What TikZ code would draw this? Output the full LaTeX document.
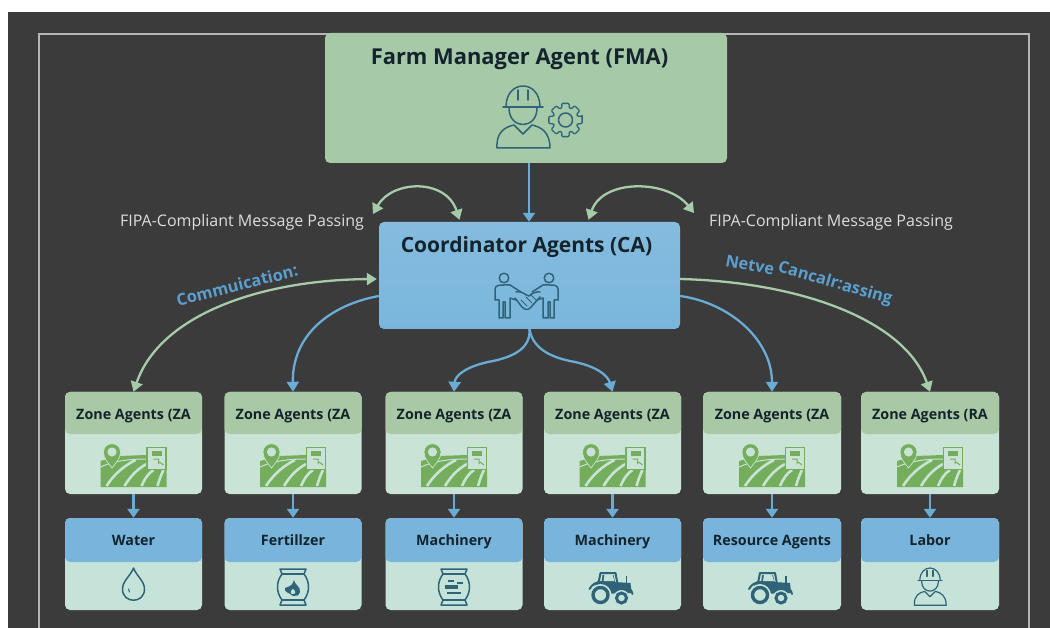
\documentclass[tikz,border=0pt]{standalone}
\usepackage{fontspec}
\setmainfont{Open Sans}
\usetikzlibrary{arrows.meta,calc}
\definecolor{bgdark}{HTML}{3B3B3C}
\definecolor{framegrey}{HTML}{B4B6B4}
\definecolor{fmagreen}{HTML}{A6C9A8}
\definecolor{cablue}{HTML}{7AB6DC}
\definecolor{zonehead}{HTML}{A9C9A6}
\definecolor{zonebody}{HTML}{C9E3D6}
\definecolor{reshead}{HTML}{79B4DC}
\definecolor{resbody}{HTML}{C6E3DA}
\definecolor{inkdark}{HTML}{14242C}
\definecolor{icondark}{HTML}{2F6478}
\definecolor{arrowgreen}{HTML}{A6CBA9}
\definecolor{arrowblue}{HTML}{69ACD4}
\definecolor{labelblue}{HTML}{5B9FCF}
\definecolor{labelwhite}{HTML}{DDDDDB}
\definecolor{fieldgreen}{HTML}{74AE5C}
\tikzset{
  x=1pt,y=-1pt,
  bigbox/.style={rounded corners=5pt,inner sep=0pt,draw=none},
  zonebox/.style={rounded corners=5pt,inner sep=0pt,minimum height=102pt,fill=zonebody,
    path picture={\fill[zonehead] (path picture bounding box.north west) rectangle ([yshift=-42pt]path picture bounding box.north east);}},
  resbox/.style={rounded corners=5pt,inner sep=0pt,minimum height=92pt,fill=resbody,
    path picture={\fill[reshead] (path picture bounding box.north west) rectangle ([yshift=-44pt]path picture bounding box.north east);}},
  smalltitle/.style={font=\fontsize{14.3}{16}\selectfont\bfseries,text=inkdark,inner sep=0pt,anchor=base},
  msglabel/.style={font=\fontsize{16}{18}\selectfont,text=labelwhite,inner sep=0pt,anchor=base},
  curvelabel/.style={font=\fontsize{16.4}{18}\selectfont\bfseries,text=labelblue,inner sep=0pt},
  greenarrow/.style={draw=arrowgreen,line width=2.3pt},
  bluearrow/.style={draw=arrowblue,line width=2.3pt},
  tip/.style={-{Triangle[length=10pt,width=12pt]}},
  shorttip/.style={-{Triangle[length=9pt,width=12pt]}},
  tiptwo/.style={{Triangle[length=10pt,width=12pt]}-{Triangle[length=10pt,width=12pt]}},
  iconline/.style={draw=icondark,line width=1.5pt,line join=round,line cap=round},
  fieldicon/.pic={
    \fill[fieldgreen] (-33,-4) -- (-15,-9) -- (13,-10) -- (13,5) -- (33,5) -- (33,22) -- (-33,22) -- cycle;
    \draw[zonebody,line width=2.6pt] (-27,21) .. controls (-20,10) and (-10,1) .. (2,-5);
    \draw[zonebody,line width=2.6pt] (-9,21) .. controls (-3,11) and (4,4) .. (13,-1);
    \draw[zonebody,line width=2.6pt] (8,21) .. controls (11,14) and (15,8) .. (20,5);
    \draw[zonebody,line width=2.6pt] (24,21) .. controls (26,14) and (28,9) .. (30,5);
    \draw[zonebody,line width=1pt] (-33,2) .. controls (-22,-3) and (-8,-6) .. (13,-6);
    \filldraw[fill=fieldgreen,draw=zonebody,line width=0.7pt] (-30,-13) .. controls (-30,-6) and (-25,-2) .. (-21.5,3) .. controls (-18,-2) and (-13,-6) .. (-13,-13) .. controls (-13,-24) and (-30,-24) .. (-30,-13) -- cycle;
    \fill[zonebody] (-21.5,-13) circle[radius=4.6pt];
    \fill[zonebody] (13,-18) rectangle (33,5);
    \draw[fieldgreen,line width=1.2pt] (13.5,-17.5) rectangle (32.5,4.5);
    \fill[fieldgreen] (18,-14) rectangle (28,-9);
    \draw[fieldgreen,line width=1pt] (20,-6) -- (25,-6) -- (25,-1) (26,-3) -- (30,0);
  },
  dropicon/.pic={
    \draw[iconline] (0,-16) .. controls (-3,-8) and (-11,-3) .. (-11,5) .. controls (-11,20) and (11,20) .. (11,5) .. controls (11,-3) and (3,-8) .. (0,-16) -- cycle;
    \draw[iconline,line width=1pt] (-5,5) -- (-4,8);
  },
  bagoutline/.pic={
    \draw[iconline] (-13,-17) -- (13,-17) -- (11,-12) .. controls (17,-4) and (17,6) .. (11,14) -- (13,19) -- (-13,19) -- (-11,14) .. controls (-17,6) and (-17,-4) .. (-11,-12) -- cycle;
    \draw[iconline,line width=1.1pt] (-11,-12) -- (11,-12) (-11,14) -- (11,14);
  },
  fertilizericon/.pic={
    \pic {bagoutline};
    \fill[icondark] (1,-6) .. controls (1,-2) and (8,1) .. (7,6) .. controls (6,10) and (3,10) .. (0,10) .. controls (-4,6) and (-9,7) .. (-8,2) .. controls (-5,-1) and (-2,3) .. (1,-6) -- cycle;
    \fill[resbody] (0,3) .. controls (3,5) and (3,8) .. (0,8) .. controls (-3,8) and (-3,5) .. (0,3) -- cycle;
  },
  sackicon/.pic={
    \pic {bagoutline};
    \fill[icondark] (-6,-6) rectangle (0,-4);
    \fill[icondark] (3,-4) rectangle (9,-2);
    \fill[icondark] (-9,-1) rectangle (4,3);
    \fill[icondark] (-7,6) rectangle (7,8);
  },
  tractoricon/.pic={
    \fill[icondark] (-16,-2) -- (-12,-6) -- (20,-4) -- (21,6) -- (-14,7) -- cycle;
    \draw[icondark,line width=2pt,line join=round] (-12,-4) -- (-10,-14) -- (5,-14) -- (7,-3);
    \fill[icondark] (-8,-12) -- (3,-12) -- (5,-3) -- (-9,-3) -- cycle;
    \fill[resbody] (-6,-12) -- (2,-12) -- (4,-6) -- (-7,-6) -- cycle;
    \draw[icondark,line width=1.6pt] (16,-4) -- (16,-11);
    \fill[resbody] (-10,8) circle[radius=11pt];
    \draw[icondark,line width=3.4pt] (-10,8) circle[radius=7.5pt];
    \fill[resbody] (11,11) circle[radius=8pt];
    \draw[icondark,line width=3pt] (11,11) circle[radius=5pt];
    \draw[icondark,line width=2pt,line cap=round] (-21,2) .. controls (-18,-3) and (-15,-4) .. (-12,-5);
    \draw[icondark,line width=2pt,line cap=round] (22,7) .. controls (21,3) and (19,1) .. (17,1);
  },
  workericon/.pic={
    \draw[pic actions] (-20,-9) -- (20,-9);
    \draw[pic actions] (-17,-9) .. controls (-17,-37) and (17,-37) .. (17,-9);
    \draw[pic actions] (-5,-16) -- (-5,-26) (5,-16) -- (5,-26);
    \draw[pic actions] (-14,-8) .. controls (-14,14) and (14,14) .. (14,-8);
    \draw[pic actions] (-26,32) .. controls (-27,16) and (-18,11) .. (-9,9) -- (0,18) -- (9,9) .. controls (18,11) and (27,16) .. (27,32) -- cycle;
  },
  gearicon/.pic={
    \draw[iconline,line width=1.3pt,rounded corners=1pt] (-12:17) \foreach \a in {0,45,...,315}{ -- ({\a-12}:17) -- ({\a+12}:17) -- ({\a+18}:12.5) -- ({\a+27}:12.5)} -- cycle;
    \draw[iconline,line width=1.5pt] (0,0) circle[radius=7pt];
  },
  personleft/.pic={
    \draw[iconline] (0,-18) circle[radius=4.8pt];
    \draw[iconline] (-9,4) -- (-9,-7) .. controls (-9,-11) and (-4,-11) .. (0,-11) -- (6,-11) -- (17,-4);
    \draw[iconline] (-9,4) -- (-5,4) -- (-5,22) -- (-1,22) -- (-1,6) -- (1,6) -- (1,22) -- (6,22) -- (6,2) -- (12,4);
  },
}
\newcommand{\agentcol}[8]{%
  \node[zonebox,minimum width=#3pt] (z#1) at (#2,443) {};
  \node[smalltitle] (zt#1) at (#2,419) {#4};
  \pic at (#2,465) {fieldicon};
  \node[resbox,minimum width=#3pt] (r#1) at (#2,564) {};
  \node[smalltitle] (rt#1) at (#2,545.5) {#5};
  \pic[#7] at (#2,#6) {#8};
  \draw[bluearrow,shorttip] (z#1.south) -- (r#1.north);
}
\begin{document}
\begin{tikzpicture}
\useasboundingbox (0,0) rectangle (1050,628);
\fill[white] (0,0) rectangle (1050,628);
\fill[bgdark] (8,12) rectangle (1050,628);
\draw[framegrey,line width=1.8pt] (39,628) -- (39,34) -- (1029,34) -- (1029,628);

% top boxes
\node[bigbox,fill=fmagreen,minimum width=402pt,minimum height=130pt] (fma) at (526,98) {};
\node[inner sep=0pt,anchor=base,text=inkdark,font=\fontsize{21.9}{25}\selectfont\bfseries] (fmat) at (519.5,65) {Farm Manager Agent (FMA)};
\node[bigbox,top color=cablue!92!white,bottom color=cablue,minimum width=301pt,minimum height=107pt] (ca) at (529.5,275.5) {};
\node[inner sep=0pt,anchor=base,text=inkdark,font=\fontsize{21}{24}\selectfont\bfseries] (cat) at (526.5,253) {Coordinator Agents (CA)};

% FMA icon
\pic[iconline,line width=1.5pt] at (523,116) {workericon};
\pic at (565.5,120) {gearicon};

% CA icon
\pic at (504,296) {personleft};
\pic[xscale=-1] at (549,296) {personleft};
\draw[iconline] (516,292) .. controls (522,290) and (526,296) .. (529,296) .. controls (532,293) and (538,291) .. (540,292);
\draw[iconline] (515,298) -- (522,307) .. controls (526,311) and (529,310) .. (532,306) -- (540,297);
\draw[iconline,line width=1pt] (521,300) -- (527,306) (526,297) -- (532,303) (531,295) -- (536,300);

% labels
\node[msglabel] (fipaL) at (242,227) {FIPA-Compliant Message Passing};
\node[msglabel] (fipaR) at (831,227) {FIPA-Compliant Message Passing};
\node[curvelabel,rotate=14] (commL) at (237,285) {Commuication:};
\node[curvelabel,rotate=-10] (netve) at (750,265) {Netve};
\node[curvelabel,rotate=-16] (cancal) at (835,284) {Cancalr:assing};

% connectors
\coordinate (fmaout) at ($(fma.south)+(3,0)$);
\coordinate (lefttip) at (373,214);
\coordinate (righttip) at (694,213);
\draw[bluearrow,shorttip] (fmaout) -- (fmaout |- ca.north);
\draw[greenarrow,tiptwo] (lefttip) .. controls (392,180) and (446,178) .. ($(ca.north)+(-70,-2)$);
\draw[greenarrow,tiptwo] ($(ca.north)+(59,-2)$) .. controls (603,178) and (668,180) .. (righttip);

\agentcol{a}{133.5}{137}{Zone Agents (ZA}{Water}{584}{}{dropicon}
\agentcol{b}{293}{137}{Zone Agents (ZA}{Fertillzer}{586}{}{fertilizericon}
\agentcol{c}{454}{137}{Zone Agents (ZA}{Machinery}{586}{}{sackicon}
\agentcol{d}{612.5}{137}{Zone Agents (ZA}{Machinery}{587}{xshift=-2pt}{tractoricon}
\agentcol{e}{772}{138}{Zone Agents (ZA}{Resource Agents}{587}{xshift=-2pt}{tractoricon}
\agentcol{f}{930}{138}{Zone Agents (RA}{Labor}{586}{iconline,line width=1.2pt,scale=0.6}{workericon}

\draw[greenarrow,tiptwo] (za.north) .. controls (160,315) and (260,280) .. ($(ca.west)+(-2,3.5)$);
\draw[bluearrow,tip] ($(ca.west)+(0,20.5)$) .. controls (330,305) and (292,335) .. (zb.north);
\draw[bluearrow,tip] (ca.south) .. controls (531,350) and (510,358) .. (488,362) .. controls (465,367) and (455,376) .. (zc.north);
\draw[bluearrow,tip] (ca.south) .. controls (533,350) and (553,358) .. (575,362) .. controls (598,367) and (608,376) .. (zd.north);
\draw[bluearrow,tip] ($(ca.east)+(0,20.5)$) .. controls (730,303) and (772,340) .. (ze.north);
\draw[greenarrow,tip] ($(ca.east)+(0,3.5)$) .. controls (800,282) and (905,320) .. (zf.north);
\end{tikzpicture}
\end{document}
